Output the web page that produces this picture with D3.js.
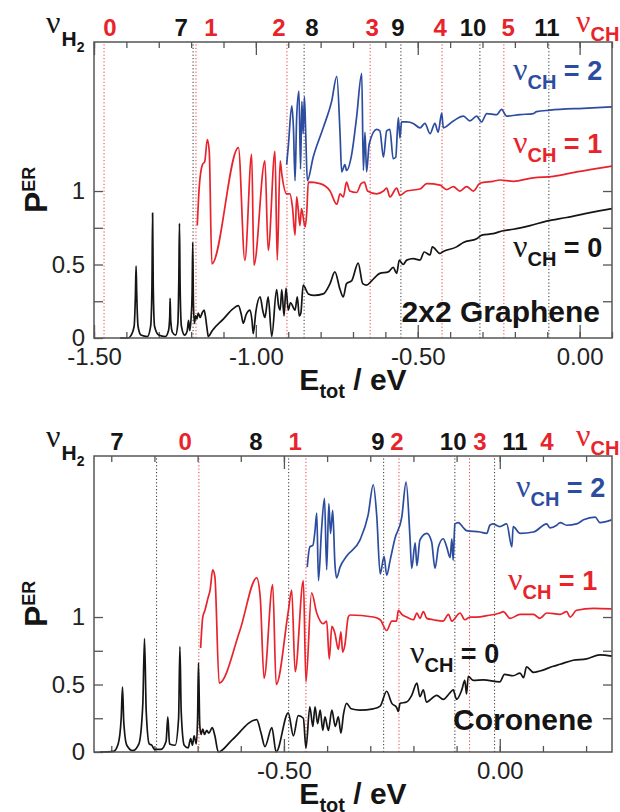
<!DOCTYPE html>
<html>
<head>
<meta charset="utf-8">
<script src="https://cdn.jsdelivr.net/npm/d3@7"></script>
<style>
  body { margin: 0; background: #fff; }
  #chart { width: 620px; height: 812px; }
  text { font-family: "Liberation Sans", Arial, sans-serif; }
</style>
</head>
<body>
<div id="chart"></div>
<script>

// ---- data: [E_tot (eV), P_ER] ----
const topBlack = [[-1.420,0],[-1.395,0],[-1.385,0.02],[-1.376,0.08],[-1.372,0.3],[-1.370,0.49],[-1.368,0.3],[-1.364,0.08],[-1.355,0.02],[-1.335,0.01],[-1.325,0.08],[-1.321,0.35],[-1.319,0.85],[-1.317,0.35],[-1.313,0.08],[-1.300,0.02],[-1.280,0.01],[-1.270,0.05],[-1.266,0.15],[-1.265,0.27],[-1.263,0.12],[-1.258,0.04],[-1.248,0.02],[-1.241,0.1],[-1.238,0.4],[-1.236,0.78],[-1.234,0.35],[-1.230,0.08],[-1.220,0.02],[-1.212,0.05],[-1.208,0.12],[-1.204,0.05],[-1.200,0.14],[-1.197,0.3],[-1.195,0.65],[-1.193,0.25],[-1.190,0.1],[-1.186,0.15],[-1.182,0.13],[-1.178,0.17],[-1.172,0.14],[-1.166,0.17],[-1.160,0.19],[-1.156,0.15],[-1.150,0.05],[-1.147,0.01],[-1.135,0.05],[-1.100,0.13],[-1.070,0.2],[-1.054,0.22],[-1.045,0.16],[-1.039,0.10],[-1.030,0.16],[-1.018,0.19],[-1.012,0.12],[-1.008,0.03],[-1.000,0.18],[-0.987,0.28],[-0.978,0.18],[-0.972,0.14],[-0.962,0.28],[-0.951,0.01],[-0.936,0.33],[-0.930,0.22],[-0.925,0.19],[-0.920,0.33],[-0.913,0.15],[-0.907,0.34],[-0.900,0.19],[-0.893,0.24],[-0.879,0.19],[-0.872,0.28],[-0.866,0.15],[-0.861,0.17],[-0.854,0.36],[-0.838,0.30],[-0.820,0.29],[-0.792,0.30],[-0.771,0.37],[-0.756,0.45],[-0.740,0.33],[-0.730,0.28],[-0.720,0.37],[-0.704,0.39],[-0.684,0.51],[-0.670,0.37],[-0.658,0.36],[-0.642,0.39],[-0.617,0.44],[-0.591,0.45],[-0.576,0.48],[-0.565,0.44],[-0.557,0.53],[-0.545,0.50],[-0.534,0.53],[-0.514,0.54],[-0.493,0.53],[-0.480,0.585],[-0.462,0.565],[-0.455,0.62],[-0.431,0.575],[-0.424,0.585],[-0.380,0.62],[-0.359,0.65],[-0.318,0.675],[-0.302,0.70],[-0.267,0.71],[-0.236,0.73],[-0.205,0.74],[-0.153,0.765],[-0.102,0.795],[-0.040,0.82],[0.032,0.853],[0.1,0.88]];

const topRed = [[-1.181,0.765],[-1.175,1.025],[-1.165,1.18],[-1.158,1.20],[-1.150,1.35],[-1.144,1.27],[-1.136,0.505],[-1.054,1.296],[-1.034,0.528],[-1.013,1.25],[-1.006,0.495],[-0.972,1.206],[-0.962,0.596],[-0.941,1.27],[-0.934,0.53],[-0.925,1.206],[-0.920,1.116],[-0.905,0.98],[-0.895,0.98],[-0.887,0.89],[-0.879,0.70],[-0.874,0.96],[-0.869,0.87],[-0.864,0.765],[-0.859,0.88],[-0.848,0.755],[-0.843,0.85],[-0.838,1.06],[-0.802,1.05],[-0.771,1.00],[-0.750,0.91],[-0.740,0.98],[-0.730,0.96],[-0.720,1.06],[-0.710,1.0],[-0.689,0.99],[-0.675,1.05],[-0.665,1.06],[-0.655,1.0],[-0.627,0.98],[-0.606,1.0],[-0.596,1.02],[-0.586,0.96],[-0.565,1.02],[-0.555,0.97],[-0.534,1.0],[-0.493,1.014],[-0.472,1.05],[-0.431,1.04],[-0.411,1.01],[-0.390,1.03],[-0.370,1.0],[-0.349,1.03],[-0.328,1.0],[-0.308,1.053],[-0.267,1.066],[-0.246,1.075],[-0.205,1.066],[-0.143,1.09],[-0.081,1.10],[-0.009,1.13],[0.1,1.17]];

const topBlue = [[-0.905,1.18],[-0.900,1.30],[-0.889,1.58],[-0.884,1.43],[-0.879,1.07],[-0.874,1.50],[-0.867,1.68],[-0.862,1.15],[-0.858,1.61],[-0.854,1.39],[-0.850,1.64],[-0.846,1.39],[-0.841,1.07],[-0.823,1.23],[-0.792,1.43],[-0.766,1.61],[-0.750,1.78],[-0.740,1.39],[-0.735,1.13],[-0.725,1.18],[-0.720,1.14],[-0.704,1.25],[-0.689,1.50],[-0.673,1.80],[-0.668,1.14],[-0.663,1.40],[-0.658,1.13],[-0.650,1.32],[-0.627,1.42],[-0.617,1.41],[-0.606,1.23],[-0.596,1.41],[-0.586,1.42],[-0.576,1.22],[-0.568,1.23],[-0.560,1.50],[-0.555,1.36],[-0.550,1.47],[-0.534,1.47],[-0.514,1.46],[-0.493,1.43],[-0.478,1.46],[-0.462,1.39],[-0.447,1.46],[-0.437,1.40],[-0.426,1.53],[-0.421,1.43],[-0.390,1.477],[-0.359,1.51],[-0.339,1.477],[-0.318,1.51],[-0.303,1.47],[-0.287,1.527],[-0.256,1.52],[-0.241,1.556],[-0.226,1.51],[-0.184,1.52],[-0.143,1.527],[-0.133,1.54],[-0.092,1.55],[0.011,1.563],[0.1,1.572]];

const botBlack = [[-0.926,0],[-0.895,0.005],[-0.884,0.06],[-0.877,0.25],[-0.874,0.48],[-0.871,0.22],[-0.864,0.05],[-0.850,0.01],[-0.836,0.06],[-0.827,0.35],[-0.823,0.84],[-0.819,0.3],[-0.812,0.06],[-0.806,0.05],[-0.800,0.02],[-0.785,0.02],[-0.773,0.08],[-0.769,0.26],[-0.765,0.06],[-0.752,0.05],[-0.744,0.25],[-0.741,0.78],[-0.738,0.3],[-0.731,0.05],[-0.722,0.03],[-0.716,0.1],[-0.712,0.05],[-0.708,0.12],[-0.703,0.06],[-0.700,0.25],[-0.698,0.66],[-0.695,0.2],[-0.692,0.13],[-0.688,0.17],[-0.684,0.13],[-0.679,0.16],[-0.674,0.14],[-0.666,0.18],[-0.660,0.12],[-0.652,0.0],[-0.620,0.09],[-0.563,0.24],[-0.553,0.14],[-0.544,0.04],[-0.528,0.18],[-0.518,0.0],[-0.490,0.29],[-0.478,0.12],[-0.467,0.27],[-0.455,0.25],[-0.449,0.03],[-0.440,0.335],[-0.433,0.19],[-0.428,0.335],[-0.422,0.21],[-0.416,0.31],[-0.410,0.16],[-0.405,0.26],[-0.397,0.16],[-0.389,0.31],[-0.381,0.19],[-0.374,0.26],[-0.368,0.14],[-0.362,0.28],[-0.355,0.36],[-0.344,0.32],[-0.324,0.31],[-0.293,0.32],[-0.277,0.34],[-0.262,0.45],[-0.250,0.36],[-0.239,0.33],[-0.235,0.30],[-0.231,0.36],[-0.216,0.37],[-0.204,0.42],[-0.192,0.51],[-0.185,0.41],[-0.177,0.46],[-0.170,0.37],[-0.146,0.42],[-0.131,0.39],[-0.115,0.44],[-0.108,0.46],[-0.100,0.39],[-0.088,0.46],[-0.081,0.53],[-0.077,0.43],[-0.073,0.56],[-0.061,0.53],[-0.038,0.535],[0.0,0.52],[0.011,0.575],[0.031,0.565],[0.047,0.585],[0.055,0.55],[0.062,0.63],[0.078,0.59],[0.093,0.60],[0.124,0.635],[0.140,0.65],[0.170,0.68],[0.201,0.69],[0.232,0.72],[0.26,0.71]];

const botRed = [[-0.693,0.77],[-0.688,1.0],[-0.683,1.05],[-0.676,1.14],[-0.671,1.2],[-0.665,1.35],[-0.660,1.30],[-0.650,0.51],[-0.602,0.90],[-0.563,1.29],[-0.555,1.15],[-0.546,0.545],[-0.526,1.24],[-0.518,0.50],[-0.490,1.04],[-0.482,1.2],[-0.474,0.595],[-0.455,1.27],[-0.449,0.52],[-0.436,1.18],[-0.424,1.03],[-0.409,0.95],[-0.401,0.97],[-0.395,0.69],[-0.389,0.93],[-0.382,0.88],[-0.374,0.76],[-0.368,0.89],[-0.364,0.74],[-0.359,0.79],[-0.351,1.0],[-0.347,1.015],[-0.293,1.0],[-0.277,0.98],[-0.262,0.90],[-0.250,0.97],[-0.239,0.97],[-0.235,1.05],[-0.227,1.02],[-0.216,1.0],[-0.200,0.98],[-0.192,1.03],[-0.185,0.99],[-0.177,1.04],[-0.169,0.99],[-0.154,0.98],[-0.131,0.97],[-0.119,1.02],[-0.111,0.97],[-0.092,1.03],[-0.081,0.98],[-0.069,1.0],[-0.053,1.0],[-0.030,1.01],[0.0,1.03],[0.008,1.04],[0.024,0.99],[0.047,1.02],[0.078,1.02],[0.093,0.99],[0.109,1.03],[0.140,1.02],[0.155,1.04],[0.163,1.0],[0.178,1.05],[0.217,1.064],[0.259,1.06]];

const botBlue = [[-0.446,1.37],[-0.440,1.52],[-0.433,1.53],[-0.428,1.64],[-0.424,1.77],[-0.420,1.27],[-0.413,1.64],[-0.406,1.88],[-0.401,1.35],[-0.396,1.84],[-0.392,1.62],[-0.387,1.79],[-0.382,1.40],[-0.378,1.29],[-0.370,1.37],[-0.355,1.45],[-0.324,1.57],[-0.305,1.755],[-0.293,1.98],[-0.285,1.75],[-0.277,1.32],[-0.268,1.45],[-0.262,1.31],[-0.254,1.42],[-0.243,1.58],[-0.227,1.74],[-0.217,2.0],[-0.208,1.59],[-0.204,1.36],[-0.196,1.55],[-0.192,1.38],[-0.185,1.57],[-0.169,1.62],[-0.158,1.56],[-0.150,1.36],[-0.142,1.52],[-0.131,1.58],[-0.123,1.52],[-0.115,1.44],[-0.111,1.58],[-0.108,1.42],[-0.104,1.69],[-0.096,1.70],[-0.084,1.66],[-0.077,1.64],[-0.046,1.63],[-0.030,1.62],[-0.023,1.68],[-0.016,1.69],[0.0,1.67],[0.016,1.69],[0.028,1.52],[0.031,1.67],[0.047,1.62],[0.078,1.63],[0.109,1.69],[0.116,1.66],[0.132,1.68],[0.140,1.70],[0.155,1.68],[0.178,1.69],[0.194,1.72],[0.221,1.74],[0.232,1.70],[0.259,1.72]];

// vibrational thresholds (dotted lines)
const topH2Lines = [-1.194, -0.851, -0.552, -0.308, -0.095];
const topCHLines = [-1.469, -1.185, -0.904, -0.647, -0.425, -0.234];
const botH2Lines = [-0.795, -0.489, -0.269, -0.104, -0.012];
const botCHLines = [-0.697, -0.449, -0.2335, -0.070];

// quantum number labels along the top
const topH2Labels = ["7", "8", "9", "10", "11"];
const topH2LabelE = [-1.231, -0.827, -0.561, -0.329, -0.101];
const topCHLabels = ["0", "1", "2", "3", "4", "5"];
const topCHLabelE = [-1.451, -1.139, -0.929, -0.641, -0.431, -0.221];
const botH2Labels = ["7", "8", "9", "10", "11"];
const botH2LabelE = [-0.887, -0.565, -0.282, -0.108, 0.035];
const botCHLabels = ["0", "1", "2", "3", "4"];
const botCHLabelE = [-0.729, -0.474, -0.238, -0.046, 0.109];

const RED = "#e8232b", BLUE = "#2c4c9f", BLACK = "#151515";

const svg = d3.select("#chart")
    .append("svg")
    .attr("width", 620)
    .attr("height", 812);

function nuLabel(x, y, sub, rest, color) {
    const t = svg.append("text").attr("x", x).attr("y", y).attr("fill", color);
    t.append("tspan")
        .style("font-family", "'Liberation Serif', serif")
        .attr("font-size", 32)
        .text("ν");
    t.append("tspan")
        .attr("font-weight", "bold")
        .attr("font-size", 20)
        .attr("dy", 9)
        .text(sub);
    if (rest) {
        t.append("tspan")
            .attr("font-weight", "bold")
            .attr("font-size", 27)
            .attr("dy", -9)
            .text(rest);
    }
}

function drawPanel(p) {
    const xScale = d3.scaleLinear().domain(p.xDomain).range([94, 612]);
    const yScale = d3.scaleLinear().domain(p.yDomain).range([p.yBottom, p.yTop]);
    const fmt = d => d.toFixed(2);

    // dotted threshold lines
    svg.append("g").selectAll("line")
        .data(p.h2Lines).enter().append("line")
        .attr("x1", d => xScale(d)).attr("x2", d => xScale(d))
        .attr("y1", p.yBottom).attr("y2", p.yTop)
        .attr("stroke", "#333").attr("stroke-width", 1)
        .attr("stroke-dasharray", "1.2,2.2");
    svg.append("g").selectAll("line")
        .data(p.chLines).enter().append("line")
        .attr("x1", d => xScale(d)).attr("x2", d => xScale(d))
        .attr("y1", p.yBottom).attr("y2", p.yTop)
        .attr("stroke", "#f03a3a").attr("stroke-width", 1)
        .attr("stroke-dasharray", "1.2,2.2");

    // axes with inward ticks
    const minorX = d3.range(p.xMinor[0], p.xMinor[1] + 1e-6, 0.1);
    const axisStyle = g => {
        g.select(".domain").remove();
        g.selectAll("line").attr("stroke", "#555").attr("stroke-width", 1.3);
        g.selectAll("text").attr("font-size", 24).attr("fill", "#222")
            .style("font-family", "'Liberation Sans', Arial, sans-serif");
    };
    svg.append("g").attr("transform", `translate(0,${p.yBottom})`)
        .call(d3.axisBottom(xScale).tickValues(minorX).tickSize(-6).tickFormat(""))
        .call(axisStyle);
    svg.append("g").attr("transform", `translate(0,${p.yBottom})`)
        .call(d3.axisBottom(xScale).tickValues(p.xMajor).tickSize(-13).tickPadding(10).tickFormat(fmt))
        .call(axisStyle);
    svg.append("g").attr("transform", `translate(0,${p.yTop})`)
        .call(d3.axisTop(xScale).tickValues(minorX).tickSize(-6).tickFormat(""))
        .call(axisStyle);
    svg.append("g").attr("transform", `translate(0,${p.yTop})`)
        .call(d3.axisTop(xScale).tickValues(p.xMajor).tickSize(-13).tickFormat(""))
        .call(axisStyle);
    svg.append("g").attr("transform", "translate(94,0)")
        .call(d3.axisLeft(yScale).tickValues([0, 0.25, 0.5, 0.75, 1]).tickSize(-9).tickPadding(9)
            .tickFormat(d => (d === 0 || d === 0.5 || d === 1) ? String(d) : ""))
        .call(axisStyle);
    svg.append("g").attr("transform", "translate(612,0)")
        .call(d3.axisRight(yScale).tickValues([0.25, 0.5, 0.75, 1]).tickSize(-9).tickFormat(""))
        .call(axisStyle);

    // curves
    const line = d3.line()
        .x(d => xScale(d[0]))
        .y(d => yScale(d[1]))
        .curve(d3.curveMonotoneX);
    [[p.black, BLACK], [p.red, RED], [p.blue, BLUE]].forEach(function(s) {
        svg.append("path")
            .datum(s[0])
            .attr("d", line)
            .attr("fill", "none")
            .attr("stroke", s[1])
            .attr("stroke-width", 1.7)
            .attr("stroke-linejoin", "round");
    });

    // frame
    svg.append("rect")
        .attr("x", 94).attr("y", p.yTop)
        .attr("width", 612 - 94).attr("height", p.yBottom - p.yTop)
        .attr("fill", "none").attr("stroke", "#555").attr("stroke-width", 1.5);

    // quantum number labels
    const labY = p.yTop - 6;
    svg.append("g").selectAll("text")
        .data(p.h2Labels).enter().append("text")
        .attr("x", (d, i) => xScale(p.h2LabelE[i])).attr("y", labY)
        .attr("text-anchor", "middle").attr("font-weight", "bold").attr("font-size", 24)
        .attr("fill", BLACK).text(d => d);
    svg.append("g").selectAll("text")
        .data(p.chLabels).enter().append("text")
        .attr("x", (d, i) => xScale(p.chLabelE[i])).attr("y", labY)
        .attr("text-anchor", "middle").attr("font-weight", "bold").attr("font-size", 24)
        .attr("fill", RED).text(d => d);

    // nu_H2 and nu_CH headers
    const h = svg.append("text").attr("x", 46).attr("y", p.yTop - 9).attr("fill", BLACK);
    h.append("tspan").style("font-family", "'Liberation Serif', serif").attr("font-size", 32).text("ν");
    h.append("tspan").attr("font-weight", "bold").attr("font-size", 21).attr("dx", 1).attr("dy", 13).text("H");
    h.append("tspan").attr("font-weight", "bold").attr("font-size", 14).attr("dy", 6).text("2");
    nuLabel(576, p.yTop - 10, "CH", null, RED);

    // axis titles
    const xl = svg.append("text").attr("x", 353).attr("y", p.yBottom + 52)
        .attr("text-anchor", "middle").attr("font-weight", "bold").attr("fill", BLACK);
    xl.append("tspan").attr("font-size", 30).text("E");
    xl.append("tspan").attr("font-size", 20).attr("dy", 8).text("tot");
    xl.append("tspan").attr("font-size", 30).attr("dy", -8).text(" / eV");

    const yl = svg.append("text")
        .attr("transform", `translate(47,${p.yBottom - 125}) rotate(-90)`)
        .attr("font-weight", "bold").attr("fill", BLACK);
    yl.append("tspan").attr("font-size", 32).text("P");
    yl.append("tspan").attr("font-size", 18).attr("dy", -12).text("ER");

    // series labels and system name
    p.notes.forEach(n => nuLabel(n[0], n[1], "CH", n[2], n[3]));
    svg.append("text")
        .attr("x", p.name[1]).attr("y", p.name[2])
        .attr("text-anchor", "end").attr("font-weight", "bold").attr("font-size", 30)
        .attr("fill", BLACK).text(p.name[0]);
}

drawPanel({
    xDomain: [-1.5, 0.1], yDomain: [0, 2.014], yBottom: 338, yTop: 42,
    xMinor: [-1.5, 0.1], xMajor: [-1.5, -1.0, -0.5, 0.0],
    black: topBlack, red: topRed, blue: topBlue,
    h2Lines: topH2Lines, chLines: topCHLines,
    h2Labels: topH2Labels, h2LabelE: topH2LabelE,
    chLabels: topCHLabels, chLabelE: topCHLabelE,
    notes: [[513, 80, " = 2", BLUE], [513, 153, " = 1", RED], [513, 257, " = 0", BLACK]],
    name: ["2x2 Graphene", 600, 322]
});

drawPanel({
    xDomain: [-0.94, 0.26], yDomain: [0, 2.193], yBottom: 752, yTop: 456,
    xMinor: [-0.9, 0.2], xMajor: [-0.5, 0.0],
    black: botBlack, red: botRed, blue: botBlue,
    h2Lines: botH2Lines, chLines: botCHLines,
    h2Labels: botH2Labels, h2LabelE: botH2LabelE,
    chLabels: botCHLabels, chLabelE: botCHLabelE,
    notes: [[516, 497, " = 2", BLUE], [508, 590, " = 1", RED], [410, 663, " = 0", BLACK]],
    name: ["Coronene", 593, 730]
});

</script>
</body>
</html>
